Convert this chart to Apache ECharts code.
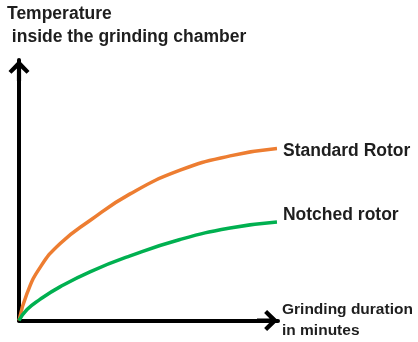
<!DOCTYPE html>
<html>
<head>
<meta charset="utf-8">
<script src="https://cdn.jsdelivr.net/npm/echarts@6/dist/echarts.min.js"></script>
<style>
html,body{margin:0;padding:0;background:#fff;}
#chart{width:418px;height:342px;}
</style>
</head>
<body>
<div id="chart"></div>
<script>
// Data (arbitrary units)
var durations = [0, 0.31, 0.81, 1.58, 2.74, 4.29, 6.22, 8.15, 9.96];
var standardRotor = [0, 1.04, 2.03, 2.95, 3.84, 4.86, 5.77, 6.32, 6.60];
var notchedRotor = [0, 0.42, 0.81, 1.29, 1.87, 2.48, 3.11, 3.55, 3.78];
var seriesNames = ['Standard Rotor', 'Notched rotor'];
var yAxisTitle = 'Temperature\n inside the grinding chamber';
var xAxisTitle = 'Grinding duration\nin minutes';

function pairs(xs, ys) { return xs.map(function (x, i) { return [x, ys[i]]; }); }

var FONT = 'Liberation Sans';
var TXT = '#1e1e1e';
var FS = 17.5;
var arrow = 'path://M50 0 L100 52 L86 66 L60 40 L60 100 L40 100 L40 40 L14 66 L0 52 Z';

var chart = echarts.init(document.getElementById('chart'), null, {renderer: 'canvas'});
chart.setOption({
  animation: false,
  backgroundColor: '#fff',
  title: {
    text: yAxisTitle,
    left: 7, top: 3,
    padding: 0,
    textStyle: {fontFamily: FONT, fontSize: FS, fontWeight: 'bold', color: TXT, lineHeight: 23}
  },
  grid: {left: 19, right: 140, top: 60, bottom: 21.5, containLabel: false, outerBoundsMode: 'none'},
  xAxis: {
    type: 'value', min: 0, max: 10,
    name: xAxisTitle, nameLocation: 'end', nameGap: 4,
    nameTextStyle: {fontFamily: FONT, fontSize: 15.5, fontWeight: 'bold', color: TXT, lineHeight: 21, align: 'left', verticalAlign: 'middle'},
    axisLine: {show: true, onZero: false, symbol: ['none', arrow], symbolSize: [21, 21], symbolOffset: [0, -10.5], lineStyle: {color: '#000', width: 4}},
    axisTick: {show: false}, axisLabel: {show: false}, splitLine: {show: false}
  },
  yAxis: {
    type: 'value', min: 0, max: 10,
    axisLine: {show: true, onZero: false, symbol: ['none', arrow], symbolSize: [21, 21], symbolOffset: [0, -10.5], lineStyle: {color: '#000', width: 4}},
    axisTick: {show: false}, axisLabel: {show: false}, splitLine: {show: false}
  },
  series: [
    {
      name: seriesNames[0], type: 'line', smooth: 0.5, showSymbol: false, clip: false,
      data: pairs(durations, standardRotor),
      lineStyle: {color: '#ED7D31', width: 3.5},
      itemStyle: {color: '#ED7D31'},
      endLabel: {show: true, formatter: '{a}', distance: 6, offset: [0, 3], fontFamily: FONT, fontSize: FS, fontWeight: 'bold', color: TXT}
    },
    {
      name: seriesNames[1], type: 'line', smooth: 0.5, showSymbol: false, clip: false,
      data: pairs(durations, notchedRotor),
      lineStyle: {color: '#00B050', width: 3.5},
      itemStyle: {color: '#00B050'},
      endLabel: {show: true, formatter: '{a}', distance: 6, offset: [0, -7], fontFamily: FONT, fontSize: FS, fontWeight: 'bold', color: TXT}
    }
  ]
});
</script>
</body>
</html>
